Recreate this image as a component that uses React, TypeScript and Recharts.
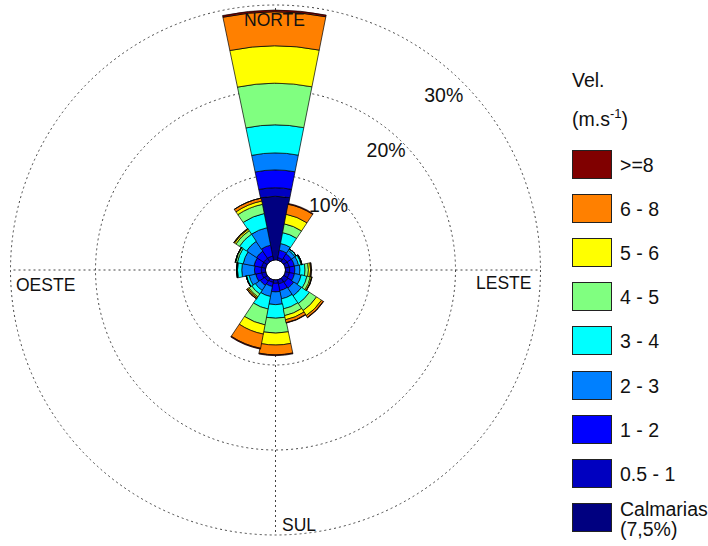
import React from "react";
import {
  RadialBarChart,
  RadialBar,
  PolarGrid,
  PolarAngleAxis,
  PolarRadiusAxis,
  Legend,
} from "recharts";

// wind directions, clockwise from north
const directions = ["N", "NNE", "NE", "ENE", "E", "ESE", "SE", "SSE", "S", "SSW", "SW", "WSW", "W", "WNW", "NW", "NNW"];

// frequency (%) per speed class, same order as directions
const calmarias = [7.5, 0, 0, 0, 0, 0, 0, 0, 0, 0, 0, 0, 0, 0, 0, 0];
const vel05a1 = [1.0, 0.3, 0.5, 0.5, 0.5, 0.5, 0.6, 0.5, 0.4, 0.3, 0.4, 0.5, 0.5, 0.5, 0.5, 0.5];
const vel1a2 = [2.1, 0.9, 0.6, 0.6, 0.6, 0.6, 0.8, 0.8, 1.0, 0.5, 0.6, 0.7, 0.8, 0.9, 1.0, 1.3];
const vel2a3 = [2.0, 0.8, 0.5, 0.5, 0.6, 0.8, 1.1, 1.0, 1.5, 1.2, 0.7, 0.8, 1.5, 1.3, 1.4, 2.1];
const vel3a4 = [3.3, 1.3, 0.2, 0.3, 0.6, 0.7, 1.1, 1.2, 1.6, 1.5, 0.5, 0.3, 0.5, 0.7, 1.0, 1.7];
const vel4a5 = [4.9, 1.05, 0, 0.1, 0.4, 0.4, 1.0, 0.8, 1.75, 1.9, 0.4, 0.05, 0.1, 0.2, 0.5, 1.1];
const vel5a6 = [4.4, 1.15, 0, 0, 0.25, 0.15, 0.7, 0.5, 1.4, 1.1, 0.15, 0, 0, 0.05, 0.2, 0.4];
const vel6a8 = [4.0, 1.2, 0, 0, 0.1, 0.05, 0.25, 0.35, 1.15, 1.7, 0.15, 0, 0, 0, 0.1, 0.35];
const vel8 = [0.2, 0.1, 0, 0, 0, 0, 0.05, 0.05, 0.1, 0.1, 0, 0, 0, 0, 0, 0];

const classKeys = ["calm", "v05", "v1", "v2", "v3", "v4", "v5", "v6", "v8"];
const classLabels = ["Calmarias", "0.5 - 1", "1 - 2", "2 - 3", "3 - 4", "4 - 5", "5 - 6", "6 - 8", ">=8"];
const classColors = ["#000080", "#0000c0", "#0000ff", "#0080ff", "#00ffff", "#80ff80", "#ffff00", "#ff8000", "#800000"];
const classValues = [calmarias, vel05a1, vel1a2, vel2a3, vel3a4, vel4a5, vel5a6, vel6a8, vel8];

const radiusTicks = [0, 10, 20, 30];

const data = directions.map((dir, i) => {
  const row: Record<string, any> = { dir };
  classKeys.forEach((k, j) => {
    row[k] = classValues[j][i];
  });
  return row;
});

const FONT = "'Liberation Sans', Arial, sans-serif";

const PercentTick = (props: any) => {
  const { x, y, payload } = props;
  if (!payload || payload.value === 0) return null;
  const v = payload.value;
  // labels sit a bit inside the ring, more so on the outer rings
  const dx = 3 - (v - 10) * 0.45;
  const dy = (v - 10) * 0.3;
  return (
    <text
      x={x + dx}
      y={y + dy}
      textAnchor="end"
      dominantBaseline="central"
      fontSize={19.5}
      fontFamily={FONT}
      fill="#111"
    >
      {v}%
    </text>
  );
};

const LegendBox = () => {
  const items = classLabels.map((label, i) => ({ label, color: classColors[i] })).reverse();
  return (
    <div style={{ position: "relative", fontFamily: FONT, color: "#111", fontSize: 19.5, width: 136, height: 480 }}>
      <div style={{ position: "absolute", left: 0, top: 0, lineHeight: "22px" }}>Vel.</div>
      <div style={{ position: "absolute", left: 0, top: 33, lineHeight: "24px" }}>
        (m.s<sup style={{ fontSize: 13, verticalAlign: "8px" }}>-1</sup>)
      </div>
      {items.map((c, i) => (
        <div key={c.label} style={{ position: "absolute", left: 0, top: 81 + i * 44.1, display: "flex" }}>
          <div
            style={{
              width: 38,
              height: 27,
              background: c.color,
              border: "1.5px solid #222",
              flex: "none",
            }}
          />
          {c.label === "Calmarias" ? (
            <div style={{ marginLeft: 8, marginTop: -4 }}>
              <div style={{ lineHeight: "20px", height: 20 }}>Calmarias</div>
              <div style={{ lineHeight: "20px", height: 20 }}>(7,5%)</div>
            </div>
          ) : (
            <div style={{ marginLeft: 8, lineHeight: "30px" }}>{c.label}</div>
          )}
        </div>
      ))}
    </div>
  );
};

const labelStyle = { fontFamily: FONT, fontSize: 17.5, fill: "#111" };

export default function App() {
  return (
    <div style={{ position: "absolute", left: 0, top: 0, width: 708, height: 546, background: "#fff" }}>
      <RadialBarChart
        width={708}
        height={546}
        data={data}
        layout="centric"
        cx={275.5}
        cy={270}
        innerRadius={10}
        outerRadius={265}
        startAngle={78.75}
        endAngle={-281.25}
        barCategoryGap="0%"
        margin={{ top: 0, right: 0, bottom: 0, left: 0 }}
      >
        <PolarGrid
          gridType="circle"
          polarAngles={[0, 90, 180, 270]}
          stroke="#444"
          strokeDasharray="2 3"
        />
        <PolarAngleAxis type="category" dataKey="dir" tick={false} axisLine={false} />
        <PolarRadiusAxis
          type="number"
          angle={43}
          domain={[0, 30]}
          ticks={radiusTicks}
          tickCount={4}
          axisLine={false}
          tick={PercentTick}
        />
        {classKeys.map((k, i) => (
          <RadialBar
            key={k}
            dataKey={k}
            name={classLabels[i]}
            stackId="rosa"
            fill={classColors[i]}
            stroke="#000"
            strokeWidth={0.7}
            isAnimationActive={false}
          />
        ))}
        <Legend
          layout="vertical"
          align="right"
          verticalAlign="top"
          content={LegendBox}
          wrapperStyle={{ position: "absolute", left: 572, top: 69, width: 136 }}
        />
      </RadialBarChart>
      <svg
        width={708}
        height={546}
        style={{ position: "absolute", left: 0, top: 0, pointerEvents: "none" }}
      >
        <text x={244} y={25.5} {...labelStyle}>NORTE</text>
        <text x={476} y={289} {...labelStyle}>LESTE</text>
        <text x={16} y={291} {...labelStyle}>OESTE</text>
        <text x={282} y={531} {...labelStyle}>SUL</text>
      </svg>
    </div>
  );
}
